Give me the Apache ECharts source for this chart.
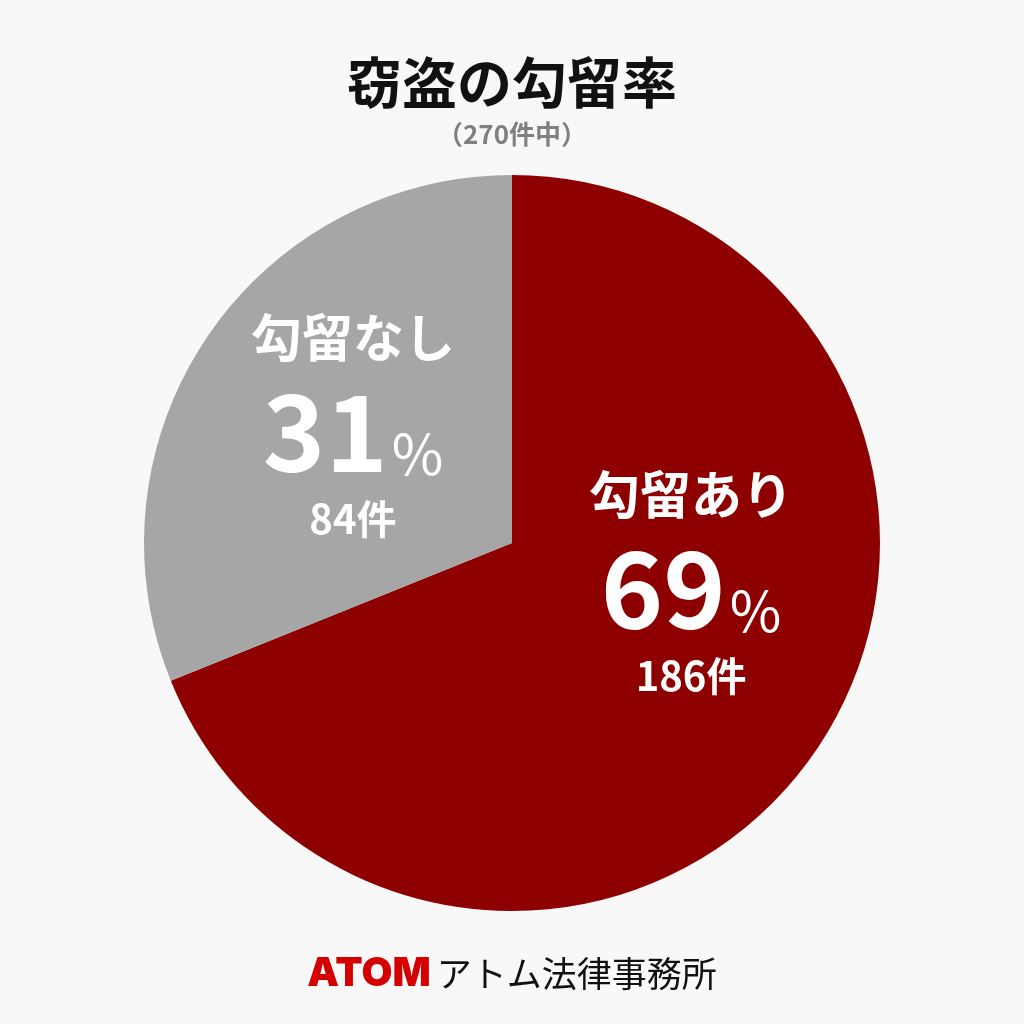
<!DOCTYPE html>
<html>
<head>
<meta charset="utf-8">
<script src="https://cdn.jsdelivr.net/npm/echarts@6/dist/echarts.min.js"></script>
<style>html,body{margin:0;padding:0;background:#f8f8f8;}#c{width:1024px;height:1024px;}</style>
</head>
<body>
<div id="c"></div>
<script>
const categories = ['勾留あり', '勾留なし'];
const counts = [186, 84];
const percents = [69, 31];
const titleText = '窃盗の勾留率';
const subtitleText = '（270件中）';
const sourceBrand = 'ATOM';
const sourceName = 'アトム法律事務所';

const colors = ['#8e0000', '#a6a6a6'];
const offsets = [[24, -66], [-4, -14]];
const FONT = '"Noto Sans CJK JP", "Noto Sans", sans-serif';

const chart = echarts.init(document.getElementById('c'), null, {renderer: 'canvas'});
chart.setOption({
  backgroundColor: '#f8f8f8',
  animation: false,
  title: [
    {
      text: titleText,
      left: 'center', top: 50,
      textStyle: {fontFamily: FONT, fontSize: 55, fontWeight: 'bold', color: '#111'}
    },
    {
      text: subtitleText,
      left: 'center', top: 116,
      textStyle: {fontFamily: FONT, fontSize: 26, fontWeight: 'bold', color: '#808080'}
    },
    {
      text: '{a|' + sourceBrand + '}{b|' + sourceName + '}',
      left: 'center', top: 949,
      textStyle: {
        rich: {
          a: {fontFamily: 'Inter, "Liberation Sans", sans-serif', fontSize: 40, fontWeight: 900, color: '#d40000', padding: [0, 6, 0, 0]},
          b: {fontFamily: FONT, fontSize: 35, fontWeight: 'normal', color: '#111'}
        }
      }
    }
  ],
  series: [{
    type: 'pie',
    center: [512, 543],
    radius: 368,
    startAngle: 90,
    clockwise: true,
    silent: true,
    itemStyle: {borderWidth: 0},
    labelLine: {show: false},
    label: {
      show: true,
      position: 'inside',
      formatter: function (p) {
        return '{n|' + p.name + '}\n{v|' + percents[p.dataIndex] + '}{p|%}\n{c|' + p.value + '件}';
      },
      rich: {
        n: {fontFamily: FONT, fontSize: 51, fontWeight: 'bold', color: '#fff', lineHeight: 76, align: 'center'},
        v: {fontFamily: FONT, fontSize: 106, fontWeight: 'bold', color: '#fff', lineHeight: 112, align: 'center'},
        p: {fontFamily: FONT, fontSize: 56, fontWeight: 'normal', color: '#fff', lineHeight: 112, verticalAlign: 'bottom', padding: [0, 0, 6, 4]},
        c: {fontFamily: FONT, fontSize: 40, fontWeight: 'bold', color: '#fff', lineHeight: 62, align: 'center'}
      }
    },
    data: categories.map(function (name, i) {
      return {
        name: name,
        value: counts[i],
        itemStyle: {color: colors[i]},
        label: {offset: offsets[i]}
      };
    })
  }]
});
</script>
</body>
</html>
